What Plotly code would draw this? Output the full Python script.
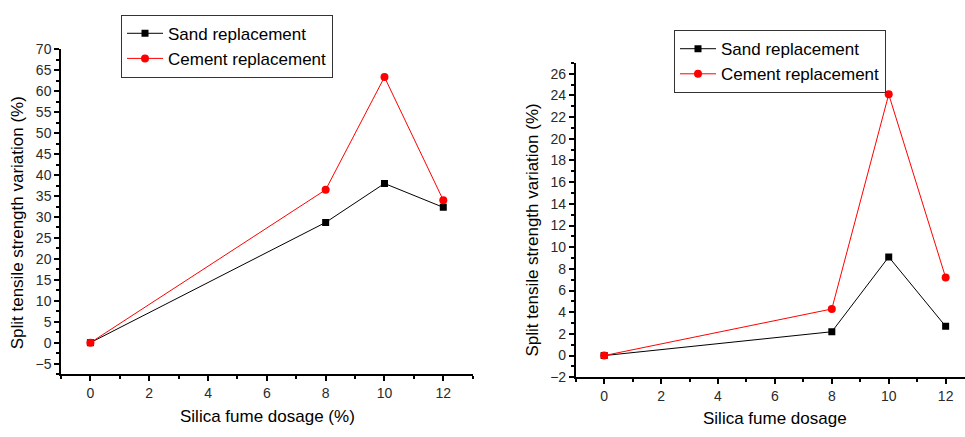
import plotly.graph_objects as go

dosage = [0, 8, 10, 12]
sand_left = [0, 28.7, 38.0, 32.3]
cement_left = [0, 36.5, 63.4, 34.0]
sand_right = [0, 2.2, 9.1, 2.7]
cement_right = [0, 4.3, 24.1, 7.2]

left_yticks = list(range(-5, 71, 5))
right_yticks = list(range(-2, 27, 2))
xticks = list(range(0, 13, 2))

FONT = "Liberation Sans, Arial, sans-serif"
W, H = 965, 437

fig = go.Figure()

def add_pair(sand, cement, xa, ya, leg):
    fig.add_trace(go.Scatter(x=dosage, y=sand, mode="lines+markers", name="Sand replacement",
                             line=dict(color="black", width=1),
                             marker=dict(symbol="square", size=7, color="black"),
                             xaxis=xa, yaxis=ya, legend=leg))
    fig.add_trace(go.Scatter(x=dosage, y=cement, mode="lines+markers", name="Cement replacement",
                             line=dict(color="#ff0000", width=1),
                             marker=dict(symbol="circle", size=8, color="#ff0000"),
                             xaxis=xa, yaxis=ya, legend=leg))

add_pair(sand_left, cement_left, "x", "y", "legend")
add_pair(sand_right, cement_right, "x2", "y2", "legend2")

axis_common = dict(showline=True, linecolor="black", linewidth=1.5, showgrid=False, zeroline=False,
                   ticks="outside", ticklen=5, tickwidth=1.5, tickcolor="black",
                   tickfont=dict(family=FONT, size=14, color="#2a2a2a"))

def minor(dt):
    return dict(dtick=dt, tick0=0, ticks="outside", ticklen=3, tickwidth=1.5, tickcolor="black")

fig.update_layout(
    width=W, height=H, margin=dict(l=0, r=0, t=0, b=0),
    paper_bgcolor="white", plot_bgcolor="white",
    xaxis=dict(domain=[61/W, 472.7/W], range=[-1, 13], tickvals=xticks, anchor="y",
               minor=minor(1), **axis_common),
    yaxis=dict(domain=[(H-380)/H, (H-43)/H], range=[-7.5, 70], tickvals=left_yticks, anchor="x",
               minor=minor(2.5), **axis_common),
    xaxis2=dict(domain=[575.7/W, 1.0], range=[-1, 12.68], tickvals=xticks, anchor="y2",
                minor=minor(1), **axis_common),
    yaxis2=dict(domain=[(H-383.3)/H, (H-57)/H], range=[-2, 27], tickvals=right_yticks, anchor="x2",
                minor=minor(1), **axis_common),
    legend=dict(x=121/W, y=1-7/H, xanchor="left", yanchor="top", bordercolor="#333", borderwidth=1,
                bgcolor="white", font=dict(family=FONT, size=17, color="black"),
                tracegroupgap=0, itemwidth=36),
    legend2=dict(x=674/W, y=1-23/H, xanchor="left", yanchor="top", bordercolor="#333", borderwidth=1,
                 bgcolor="white", font=dict(family=FONT, size=17, color="black"),
                 tracegroupgap=0, itemwidth=36),
    showlegend=True,
)

title_font = dict(family=FONT, size=17, color="black")
fig.add_annotation(text="Split tensile strength variation (%)", x=17.5/W, y=1-223/H, xref="paper", yref="paper",
                   textangle=-90, showarrow=False, font=title_font, xanchor="center", yanchor="middle")
fig.add_annotation(text="Silica fume dosage (%)", x=267.5/W, y=1-424/H, xref="paper", yref="paper",
                   showarrow=False, font=title_font, xanchor="center", yanchor="middle")
fig.add_annotation(text="Split tensile strength variation (%)", x=533/W, y=1-231/H, xref="paper", yref="paper",
                   textangle=-90, showarrow=False, font=title_font, xanchor="center", yanchor="middle")
fig.add_annotation(text="Silica fume dosage", x=774.7/W, y=1-426/H, xref="paper", yref="paper",
                   showarrow=False, font=title_font, xanchor="center", yanchor="middle")

fig.write_html("out.html", config={"displayModeBar": False},
               post_script="document.body.style.margin='0';document.body.style.padding='0';")
